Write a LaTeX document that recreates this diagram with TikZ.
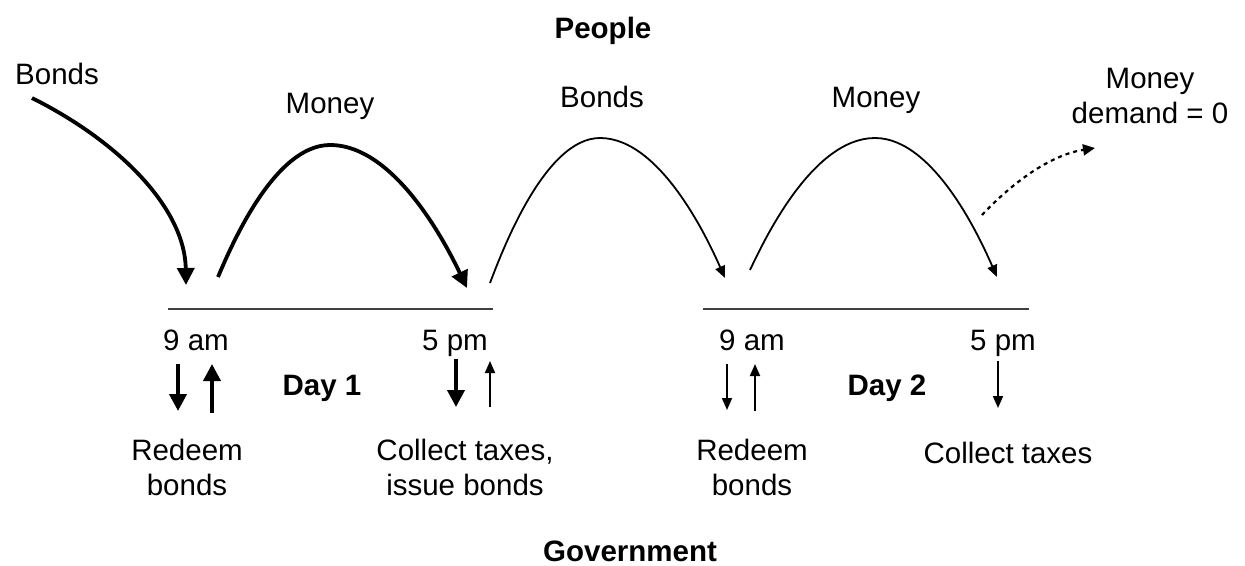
\documentclass[tikz,border=0pt]{standalone}
\usepackage{fontspec}
\setmainfont{Liberation Sans}
\usetikzlibrary{arrows.meta}
\begin{document}
\begin{tikzpicture}[x=1pt,y=-1pt,
  lbl/.style={inner sep=0pt, align=center, anchor=base, font=\fontsize{29.5}{35}\selectfont},
  blbl/.style={lbl, font=\fontsize{29.5}{35}\selectfont\bfseries},
  thickarr/.style={line width=3.8pt, -{Triangle[length=17pt,width=17pt]}},
  thinarr/.style={line width=1.8pt, -{Triangle[length=12pt,width=10pt]}},
  dotarr/.style={line width=2.2pt, dash pattern=on 4pt off 4pt, -{Triangle[length=12pt,width=11pt]}},
  timeline/.style={line width=2.2pt, draw=black!75}]
\useasboundingbox (0,0) rectangle (1245,565);

% titles
\node[blbl] (people) at (603,38) {People};
\node[blbl] (gov) at (630,561) {Government};

% upper labels (base = last line)
\node[lbl] (bondsA) at (57,84) {Bonds};
\node[lbl] (moneyA) at (330,113) {Money};
\node[lbl] (bondsB) at (602,107) {Bonds};
\node[lbl] (moneyB) at (876,107) {Money};
\node[lbl] (mdemand) at (1150,123) {Money\\demand = 0};

% timelines
\coordinate (t1a) at (168,309); \coordinate (t1b) at (493,309);
\coordinate (t2a) at (703,309); \coordinate (t2b) at (1029,309);
\draw[timeline] (t1a) -- (t1b);
\draw[timeline] (t2a) -- (t2b);

% time labels
\node[lbl] (am1) at (196,350) {9 am};
\node[lbl] (pm1) at (455,350) {5 pm};
\node[lbl] (am2) at (752,350) {9 am};
\node[lbl] (pm2) at (1003,350) {5 pm};
\node[blbl] (day1) at (322,395) {Day 1};
\node[blbl] (day2) at (887,395) {Day 2};

% lower labels (base = last line)
\node[lbl] (red1) at (187,495) {Redeem\\bonds};
\node[lbl] (col1) at (465,495) {Collect taxes,\\issue bonds};
\node[lbl] (red2) at (752,495) {Redeem\\bonds};
\node[lbl] (col2) at (1008,463) {Collect taxes};

% curve end points
\coordinate (b1s) at (32,98);   \coordinate (b1e) at (186,285);
\coordinate (m1s) at (218,277); \coordinate (m1p) at (330,145); \coordinate (m1e) at (467,288);
\coordinate (b2s) at (490,283); \coordinate (b2p) at (600,138); \coordinate (b2e) at (725,278);
\coordinate (m2s) at (750,270); \coordinate (m2p) at (875,138); \coordinate (m2e) at (997,277);
\coordinate (ds) at (982,215);  \coordinate (de) at (1095,148);

\draw[thickarr] (b1s) .. controls (122,143) and (185,210) .. (b1e);
\draw[thickarr] (m1s) parabola bend (m1p) (m1e);
\draw[thinarr] (b2s) parabola bend (b2p) (b2e);
\draw[thinarr] (m2s) parabola bend (m2p) (m2e);
\draw[dotarr] (ds) .. controls (1012,183) and (1050,155) .. (de);

% vertical flow arrows
\coordinate (a1d) at (178,364); \coordinate (a1dE) at (178,411);
\coordinate (a1u) at (212,413); \coordinate (a1uE) at (212,364);
\coordinate (p1d) at (456,359); \coordinate (p1dE) at (456,407);
\coordinate (p1u) at (490,407); \coordinate (p1uE) at (490,361);
\coordinate (a2d) at (727,364); \coordinate (a2dE) at (727,410);
\coordinate (a2u) at (755,411); \coordinate (a2uE) at (755,364);
\coordinate (p2d) at (998,361); \coordinate (p2dE) at (998,408);

\draw[thickarr] (a1d) -- (a1dE);
\draw[thickarr] (a1u) -- (a1uE);
\draw[thickarr] (p1d) -- (p1dE);
\draw[thinarr] (p1u) -- (p1uE);
\draw[thinarr] (a2d) -- (a2dE);
\draw[thinarr] (a2u) -- (a2uE);
\draw[thinarr] (p2d) -- (p2dE);
\end{tikzpicture}
\end{document}
